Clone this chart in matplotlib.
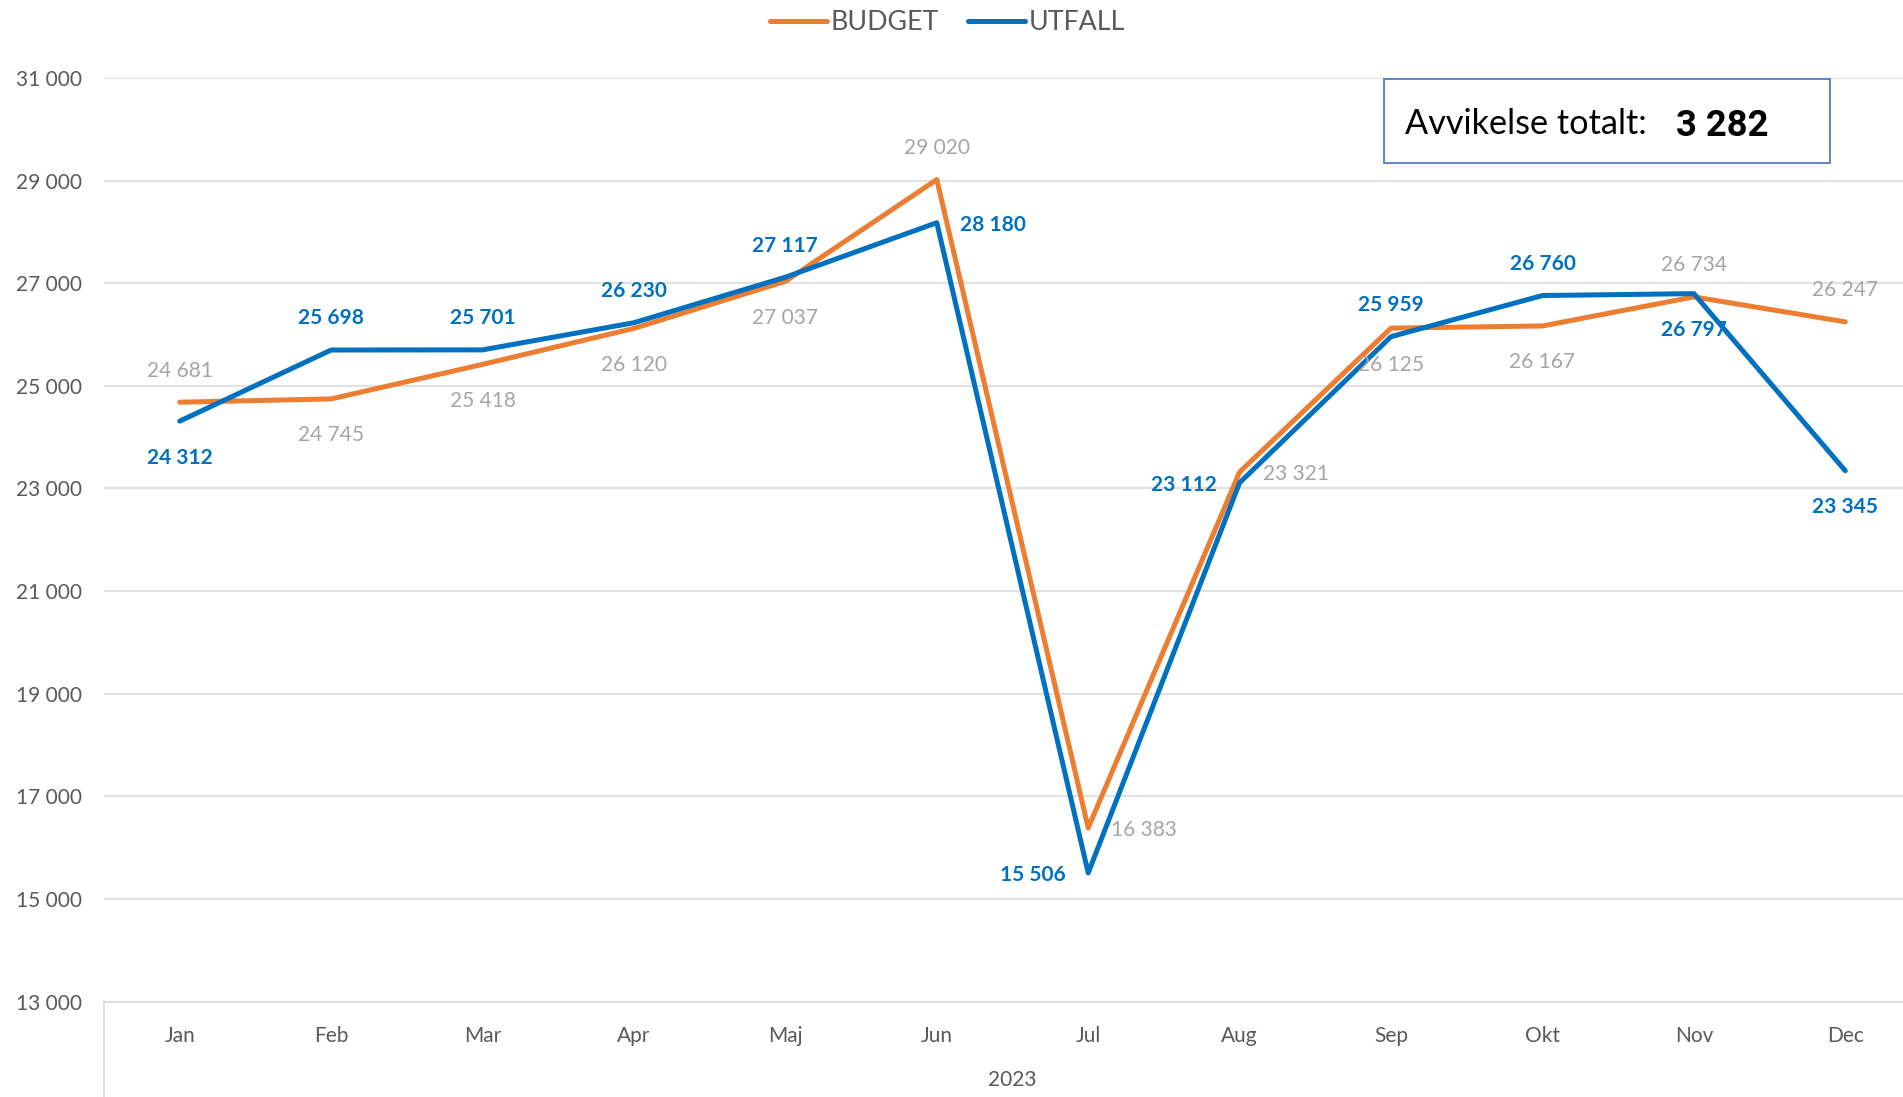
import matplotlib
matplotlib.use("Agg")
import matplotlib.pyplot as plt
from matplotlib.lines import Line2D
from matplotlib.patches import Rectangle
from matplotlib.ticker import FuncFormatter

# ---- data ----
months = ["Jan", "Feb", "Mar", "Apr", "Maj", "Jun", "Jul", "Aug", "Sep", "Okt", "Nov", "Dec"]
budget = [24681, 24745, 25418, 26120, 27037, 29020, 16383, 23321, 26125, 26167, 26734, 26247]
utfall = [24312, 25698, 25701, 26230, 27117, 28180, 15506, 23112, 25959, 26760, 26797, 23345]
year_label = "2023"
deviation_text = "3 282"
y_ticks = [13000, 15000, 17000, 19000, 21000, 23000, 25000, 27000, 29000, 31000]

# label placement (style, not data)
budget_pos = ["above", "below", "below", "below", "below", "above", "right", "right", "below", "below", "above", "above"]
utfall_pos = ["below", "above", "above", "above", "above", "right", "left", "left", "above", "above", "below", "below"]

ORANGE = "#ed7d31"
BLUE = "#0070c0"
GREY_LBL = "#a5a5a5"
TICK = "#595959"
GRID = "#d9d9d9"

plt.rcParams["font.family"] = ["Lato", "DejaVu Sans"]

fig = plt.figure(figsize=(19.03, 10.97), dpi=100)
ax = fig.add_axes([104 / 1903, 95.5 / 1097, 1817 / 1903, 923.5 / 1097])

x = list(range(len(months)))
ax.plot(x, budget, color=ORANGE, lw=3.6, solid_joinstyle="round", solid_capstyle="round", zorder=3)
ax.plot(x, utfall, color=BLUE, lw=3.6, solid_joinstyle="round", solid_capstyle="round", zorder=4)

ax.set_xlim(-0.5, len(months) - 0.5)
ax.set_ylim(13000, 31000)
ax.set_yticks(y_ticks)
ax.yaxis.set_major_formatter(FuncFormatter(lambda v, p: f"{int(v):,}".replace(",", " ")))
ax.set_xticks(x)
ax.set_xticklabels(months)
ax.tick_params(axis="both", length=0, labelsize=15, labelcolor=TICK)
ax.tick_params(axis="y", pad=16)
ax.tick_params(axis="x", pad=17.5)
ax.grid(axis="y", color=GRID, lw=1.1)
ax.set_axisbelow(True)
for s in ["left", "right", "top"]:
    ax.spines[s].set_visible(False)
ax.spines["bottom"].set_color(GRID)
ax.spines["bottom"].set_linewidth(1.1)

# category divider line below axis
ax.plot([0, 0], [0, -0.11], transform=ax.transAxes, color=GRID, lw=1.1, clip_on=False)
ax.text(0.5, -0.0855, year_label, transform=ax.transAxes, ha="center", va="center",
        fontsize=15, color=TICK)

OFF_V = 24.5
OFF_H = 16.5
DY = -1.8


def place(pos):
    if pos == "above":
        return (0, OFF_V + DY), "center", "center"
    if pos == "below":
        return (0, -OFF_V + DY), "center", "center"
    if pos == "right":
        return (OFF_H, DY), "left", "center"
    return (-OFF_H, DY), "right", "center"


def fmt(v):
    return f"{v:,}".replace(",", " ")


for i, v in enumerate(budget):
    off, ha, va = place(budget_pos[i])
    ax.annotate(fmt(v), (i, v), xytext=off, textcoords="offset points", ha=ha, va=va,
                fontsize=15, color=GREY_LBL, zorder=5)
for i, v in enumerate(utfall):
    off, ha, va = place(utfall_pos[i])
    ax.annotate(fmt(v), (i, v), xytext=off, textcoords="offset points", ha=ha, va=va,
                fontsize=15, color=BLUE, fontweight="bold", zorder=5)

# legend
handles = [Line2D([], [], color=ORANGE, lw=3.6, solid_capstyle="round"),
           Line2D([], [], color=BLUE, lw=3.6, solid_capstyle="round")]
fig.legend(handles, ["BUDGET", "UTFALL"], loc="center", bbox_to_anchor=(0.498, 1 - 23 / 1097),
           ncol=2, frameon=False, fontsize=19.3, labelcolor=TICK, handlelength=2.1,
           handletextpad=0.15, columnspacing=1.1, borderaxespad=0, borderpad=0)

# deviation box
fig.patches.append(Rectangle((1384 / 1903, 1 - 163 / 1097), 446 / 1903, 84 / 1097,
                             transform=fig.transFigure, fill=True, facecolor="white",
                             edgecolor="#4472c4", lw=1.2, zorder=10))
fig.text(1405 / 1903, 1 - 134 / 1097, "Avvikelse totalt:", ha="left", va="baseline",
         fontsize=24.7, color="black", zorder=11)
fig.text(1676 / 1903, 1 - 135.5 / 1097, deviation_text, ha="left", va="baseline",
         fontsize=26.2, color="black", fontweight="bold", family=["Roboto", "DejaVu Sans"], zorder=11)

fig.savefig("out.png", dpi=100)
